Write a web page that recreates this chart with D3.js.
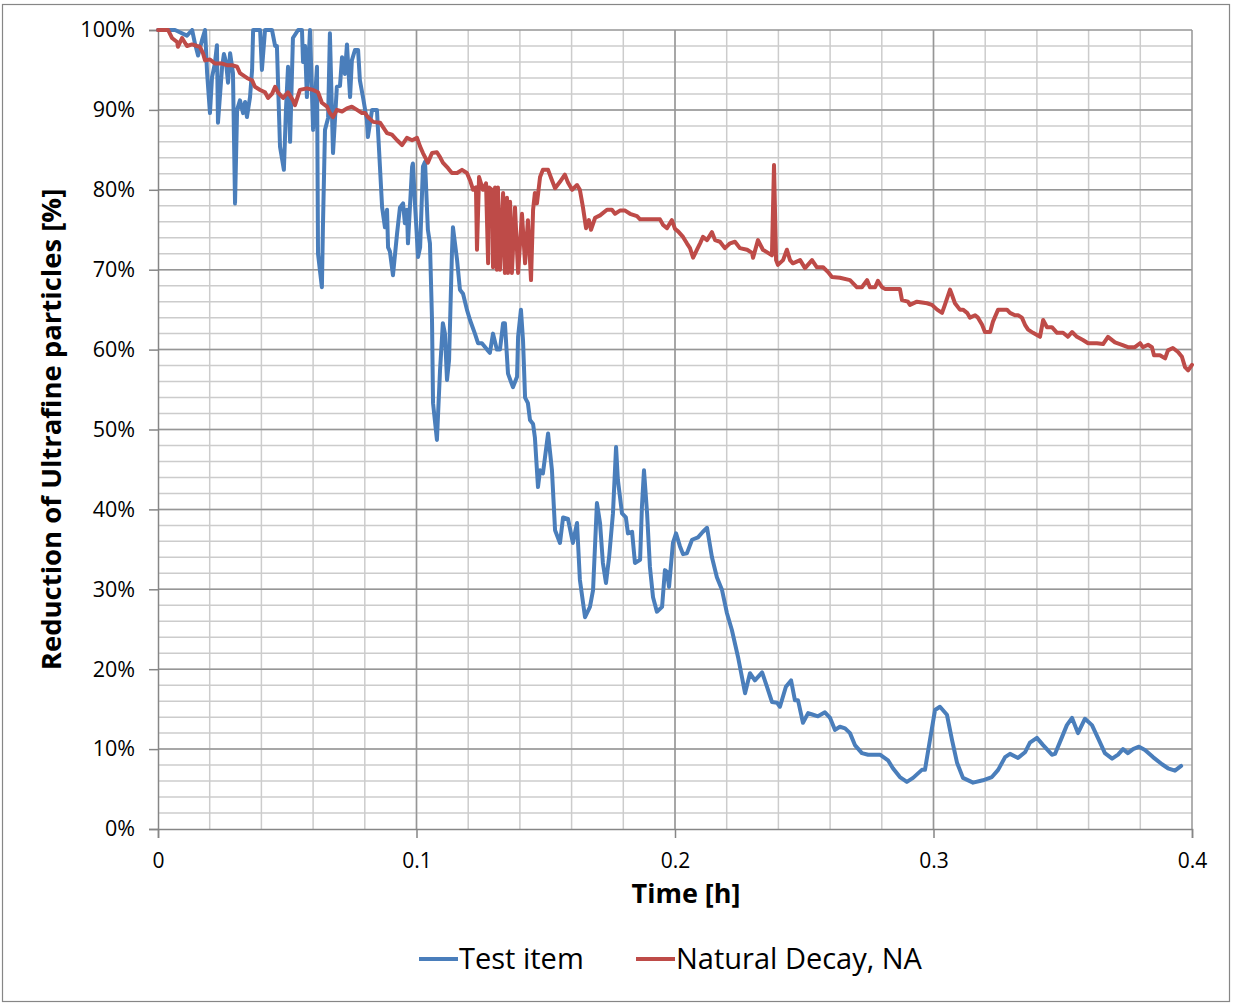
<!DOCTYPE html>
<html>
<head>
<meta charset="utf-8">
<title>Reduction of Ultrafine particles</title>
<script src="https://d3js.org/d3.v7.min.js"></script>
<style>
  body { margin: 0; background: #fff; }
  text { font-family: "Open Sans", sans-serif; fill: #000; }
  .grid-minor line { stroke: #cccccc; stroke-width: 1.5; }
  .grid-major line { stroke: #969696; stroke-width: 1.5; }
  .axis path, .axis line { stroke: #868686; stroke-width: 1.5; }
  .axis text { font-size: 21.5px; }
  .series { fill: none; stroke-width: 4; stroke-linejoin: round; stroke-linecap: round; }
</style>
</head>
<body>
<svg width="1235" height="1004"></svg>
<script>
// time [h] and reduction [%]
var testTime = [0, .0066, .0112, .0132, .0143, .0155, .0170, .0182, .0190, .0201, .0209, .0220, .0228, .0232,
  .0248, .0255, .0263, .0271, .0279, .0290, .0298, .0306, .0317, .0329, .0337, .0344, .0356, .0364, .0368,
  .0395, .0402, .0414, .0441, .0453, .0460, .0472, .0487, .0495, .0503, .0511, .0522, .0542, .0557, .0561,
  .0569, .0576, .0588, .0600, .0615, .0619, .0634, .0638, .0646, .0658, .0665, .0677, .0692, .0704, .0712,
  .0723, .0731, .0743, .0750, .0762, .0774, .0781, .0793, .0808, .0812, .0828, .0847, .0851, .0867, .0878,
  .0886, .0890, .0897, .0909, .0925, .0936, .0948, .0955, .0963, .0967, .0983, .0986, .0994, .1006, .1014,
  .1025, .1033, .1044, .1052, .1060, .1064, .1079, .1091, .1102, .1110, .1118, .1126, .1137, .1141, .1157,
  .1168, .1180, .1195, .1207, .1226, .1238, .1253, .1273, .1284, .1296, .1311, .1323, .1335, .1342, .1354,
  .1373, .1389, .1393, .1404, .1412, .1420, .1431, .1439, .1451, .1458, .1470, .1478, .1489, .1509, .1524,
  .1536, .1555, .1567, .1586, .1605, .1621, .1632, .1652, .1671, .1683, .1698, .1710, .1721, .1733, .1745,
  .1760, .1772, .1779, .1795, .1810, .1818, .1834, .1845, .1865, .1872, .1880, .1892, .1903, .1915, .1930,
  .1950, .1961, .1969, .1977, .1992, .2004, .2019, .2031, .2046, .2066, .2089, .2108, .2124, .2143, .2162,
  .2182, .2201, .2220, .2244, .2259, .2271, .2290, .2309, .2337, .2356, .2375, .2395, .2406, .2429, .2449,
  .2464, .2476, .2495, .2515, .2534, .2553, .2580, .2600, .2619, .2638, .2658, .2677, .2696, .2723, .2747,
  .2793, .2824, .2843, .2870, .2897, .2921, .2955, .2967, .2986, .3006, .3025, .3052, .3072, .3091, .3114,
  .3153, .3191, .3226, .3250, .3277, .3296, .3327, .3354, .3373, .3400, .3424, .3458, .3470, .3497, .3516,
  .3536, .3559, .3586, .3613, .3636, .3663, .3691, .3714, .3733, .3752, .3772, .3795, .3818, .3849, .3884,
  .3907, .3934, .3958];
var testValue = [100, 100, 99.3, 100, 98.3, 96.8, 98.7, 100, 94.6, 89.6, 94.1, 95.8, 98.1, 88.4,
  95.4, 97, 96, 93.4, 97.1, 94.6, 78.3, 90, 91.2, 89.6, 91, 89.1, 91.6, 95, 100,
  100, 95, 100, 100, 98, 98, 85.4, 82.5, 90, 95.4, 86, 99, 100, 100, 96,
  98, 91.6, 100, 87.5, 95.4, 72, 67.8, 75.3, 87.5, 89, 99.6, 84.6, 92.9, 93, 96.6,
  94.5, 98.2, 91.6, 96.2, 97.5, 97.5, 93.7, 91.6, 88.7, 86.6, 90, 90, 87.5, 77.8, 75.3,
  77.5, 72.8, 72.3, 69.3, 74.6, 77.8, 78.3, 75.8, 77.5, 73.3, 82.9, 83.3, 78.3, 71.6, 72.8,
  82.9, 83.5, 75, 73.3, 63.7, 53.3, 48.7, 57.4, 63.3, 62, 56.2, 58.7, 72, 75.3, 71.2,
  67.5, 67, 65, 63.7, 62, 60.8, 60.8, 60, 59.6, 62, 60, 60, 63.3, 63.3, 57,
  55.3, 56.6, 61.6, 65, 61.2, 54, 53.3, 51.2, 50.7, 49, 42.8, 44.9, 44.5, 49.5, 44.9,
  37.4, 35.8, 39, 38.8, 35.8, 38.3, 31.2, 26.5, 27.8, 29.9, 40.8, 38.3, 33.3, 30.8, 34,
  39.5, 47.8, 43.7, 39.5, 39, 37, 37.2, 33.3, 33.7, 40.3, 44.9, 39.5, 32.8, 29, 27.2,
  27.8, 32.4, 32.2, 30.3, 35.8, 37, 35.4, 34.4, 34.5, 36.2, 36.5, 37.2, 37.7, 34, 31.5,
  29.9, 27, 24.9, 21.5, 19, 17, 19.5, 18.6, 19.6, 17.8, 15.9, 15.8, 15.3, 17.8, 18.6,
  16.1, 16.1, 13.3, 14.5, 14.3, 14.1, 14.6, 13.9, 12.4, 12.8, 12.6, 12, 10.5, 9.5, 9.3,
  9.3, 8.6, 7.6, 6.5, 5.9, 6.4, 7.4, 7.4, 11.1, 14.9, 15.3, 14.3, 11.1, 8.3, 6.4,
  5.8, 6.1, 6.5, 7.4, 9, 9.4, 8.9, 9.6, 10.8, 11.4, 10.5, 9.3, 9.4, 11.5, 13,
  13.9, 12, 13.8, 13, 11.4, 9.5, 8.8, 9.3, 10, 9.5, 10, 10.3, 9.9, 9, 8.1,
  7.6, 7.3, 7.9];

var naTime = [0, .0039, .0054, .0074, .0077, .0093, .0112, .0132, .0151, .0162, .0174, .0182, .0201, .0220,
  .0248, .0267, .0286, .0306, .0317, .0344, .0364, .0375, .0395, .0414, .0426, .0441, .0453, .0464, .0484,
  .0503, .0522, .0530, .0549, .0576, .0600, .0619, .0634, .0654, .0665, .0677, .0692, .0712, .0731, .0750,
  .0770, .0789, .0801, .0812, .0832, .0859, .0886, .0905, .0925, .0944, .0963, .0983, .1002, .1014, .1025,
  .1044, .1060, .1079, .1091, .1102, .1122, .1137, .1157, .1176, .1195, .1207, .1219, .1230, .1234, .1242,
  .1257, .1269, .1277, .1280, .1292, .1296, .1304, .1311, .1315, .1323, .1335, .1342, .1350, .1354, .1362,
  .1369, .1381, .1393, .1408, .1420, .1431, .1443, .1451, .1458, .1466, .1478, .1489, .1509, .1524, .1536,
  .1555, .1574, .1586, .1602, .1621, .1632, .1644, .1656, .1667, .1675, .1691, .1710, .1737, .1756, .1768,
  .1787, .1807, .1826, .1853, .1865, .1903, .1942, .1954, .1969, .1988, .2000, .2012, .2031, .2046, .2058,
  .2070, .2085, .2097, .2108, .2124, .2143, .2155, .2174, .2193, .2213, .2232, .2251, .2279, .2298, .2302,
  .2321, .2340, .2360, .2375, .2383, .2391, .2398, .2418, .2433, .2445, .2456, .2484, .2503, .2530, .2549,
  .2573, .2592, .2607, .2638, .2677, .2704, .2723, .2743, .2754, .2774, .2785, .2801, .2812, .2870, .2878,
  .2901, .2909, .2936, .2975, .2994, .3014, .3033, .3044, .3064, .3072, .3083, .3102, .3114, .3130, .3141,
  .3161, .3172, .3188, .3199, .3219, .3230, .3250, .3284, .3296, .3315, .3327, .3342, .3354, .3366, .3385,
  .3412, .3424, .3439, .3458, .3478, .3501, .3520, .3536, .3555, .3578, .3598, .3632, .3656, .3675, .3702,
  .3729, .3752, .3779, .3799, .3810, .3830, .3845, .3853, .3876, .3896, .3907, .3926, .3946, .3961, .3973,
  .3985, .4000];
var naValue = [100, 100, 99, 98.5, 97.9, 99, 98, 98.2, 98, 97.9, 97.1, 96.2, 96.3, 95.8,
  95.8, 95.6, 95.6, 95.4, 94.6, 94, 93.7, 92.9, 92.5, 92.2, 91.5, 92, 92.9, 92.2, 91.5,
  92.2, 91.2, 90.6, 92.5, 92.7, 92.5, 92.2, 90.9, 90.4, 89.6, 89.1, 90, 89.8, 90.2, 90.4,
  90, 89.6, 89.6, 89.1, 88.5, 88.4, 87.1, 86.9, 86.2, 85.6, 86.5, 86.2, 86.5, 85.4, 84.6,
  83.4, 84.6, 84.7, 84.1, 83.4, 82.7, 82.1, 82.1, 82.5, 82.1, 81.2, 80, 80.3, 72.5, 81.6,
  80, 80.8, 70.8, 80.3, 80, 70.3, 80.3, 70, 80.3, 70, 79.6, 69.6, 79, 69.6, 78.5,
  69.6, 77.8, 69.6, 77, 70.8, 76.2, 68.7, 77.5, 79.6, 78.3, 81.6, 82.5, 82.5, 81.2, 80.2,
  81, 81.9, 80.9, 80, 80.6, 80, 77.8, 75.2, 76.2, 75, 76.5, 76.8, 77.5, 77.5, 77,
  77.4, 77.4, 77, 76.7, 76.3, 76.3, 76.3, 75.6, 75.2, 76.2, 75.1, 74.8, 74.1, 73.3, 72.7,
  71.5, 72.5, 73.3, 74.1, 73.7, 74.7, 73.7, 73.5, 72.7, 73.3, 73.5, 72.7, 72.5, 72.1, 71.5,
  73.7, 72.5, 72.1, 71.8, 83.1, 71.2, 70.6, 71.2, 72.5, 71.2, 70.8, 71.2, 70.2, 71.2, 70.3,
  70.3, 69.7, 69.1, 69, 68.7, 67.8, 67.8, 68.7, 67.8, 67.8, 68.6, 67.8, 67.6, 67.6, 66.2,
  66, 65.6, 66, 65.8, 65.6, 65, 64.6, 65.6, 67.5, 66.8, 65.8, 65, 65, 64.6, 64,
  64.3, 64, 63.1, 62.2, 62.2, 63.5, 65, 65, 64.6, 64.3, 64.3, 64, 63.1, 62.5, 62.1,
  61.6, 63.7, 62.8, 62.8, 62.1, 62.1, 61.6, 62.2, 61.6, 61.2, 60.8, 60.8, 60.7, 61.6, 60.9,
  60.6, 60.3, 60.3, 60.8, 60.3, 60.6, 60.3, 59.3, 59.3, 58.9, 59.9, 60.2, 59.7, 59.1, 57.8,
  57.4, 58.1];

var seriesNames = ["Test item", "Natural Decay, NA"];
var seriesColors = ["#4a7ebb", "#be4b48"];
var xTicks = [0, 0.1, 0.2, 0.3, 0.4];
var yTicks = [0, 10, 20, 30, 40, 50, 60, 70, 80, 90, 100];

var svg = d3.select("svg"),
  margin = { top: 30, right: 43, bottom: 175, left: 158 },
  width = +svg.attr("width") - margin.left - margin.right,
  height = +svg.attr("height") - margin.top - margin.bottom;

// outer chart frame
svg.append("rect")
  .attr("x", 2.5).attr("y", 4.5)
  .attr("width", 1227).attr("height", 997)
  .attr("fill", "#fff")
  .attr("stroke", "#868686")
  .attr("stroke-width", 1.2);

var g = svg.append("g").attr("transform", "translate(" + margin.left + "," + margin.top + ")");

var x = d3.scaleLinear().domain([0, 0.4]).range([0, width]);
var y = d3.scaleLinear().domain([0, 100]).range([height, 0]);

// minor grid every 0.02 h and 2 %
var minor = g.append("g").attr("class", "grid-minor");
minor.selectAll("line.v").data(d3.range(1, 20).map(function(i) { return i * 0.02; }))
  .enter().append("line").attr("class", "v")
  .attr("x1", function(d) { return x(d); }).attr("x2", function(d) { return x(d); })
  .attr("y1", 0).attr("y2", height);
minor.selectAll("line.h").data(d3.range(1, 50).map(function(i) { return i * 2; }))
  .enter().append("line").attr("class", "h")
  .attr("y1", function(d) { return y(d); }).attr("y2", function(d) { return y(d); })
  .attr("x1", 0).attr("x2", width);

// major grid
var major = g.append("g").attr("class", "grid-major");
major.selectAll("line.v").data(xTicks.slice(1))
  .enter().append("line").attr("class", "v")
  .attr("x1", function(d) { return x(d); }).attr("x2", function(d) { return x(d); })
  .attr("y1", 0).attr("y2", height);
major.selectAll("line.h").data(yTicks.slice(1))
  .enter().append("line").attr("class", "h")
  .attr("y1", function(d) { return y(d); }).attr("y2", function(d) { return y(d); })
  .attr("x1", 0).attr("x2", width);

// axes
g.append("g").attr("class", "axis")
  .call(d3.axisLeft(y).tickValues(yTicks).tickSize(9).tickPadding(14)
    .tickFormat(function(d) { return d + "%"; }));

g.append("g").attr("class", "axis x-axis")
  .attr("transform", "translate(0," + height + ")")
  .call(d3.axisBottom(x).tickValues(xTicks).tickSize(9).tickPadding(15)
    .tickFormat(function(d) { return d === 0 ? "0" : d3.format(".1f")(d); }))
  .selectAll("text").style("font-size", "21px");

// lines
var line = d3.line()
  .x(function(d) { return x(d[0]); })
  .y(function(d) { return y(d[1]); });

var series = [d3.zip(testTime, testValue), d3.zip(naTime, naValue)];

g.append("clipPath").attr("id", "plot")
  .append("rect").attr("x", -2).attr("y", -2).attr("width", width + 4).attr("height", height + 4);

g.selectAll(".series")
  .data(series)
  .enter().append("path")
  .attr("class", "series")
  .attr("clip-path", "url(#plot)")
  .attr("stroke", function(d, i) { return seriesColors[i]; })
  .attr("d", line);

// axis titles
svg.append("text")
  .attr("transform", "translate(61," + (margin.top + height / 2) + ") rotate(-90)")
  .attr("text-anchor", "middle")
  .style("font-size", "27.5px")
  .style("font-weight", "bold")
  .text("Reduction of Ultrafine particles [%]");

svg.append("text")
  .attr("x", 686)
  .attr("y", 903)
  .attr("text-anchor", "middle")
  .style("font-size", "27px")
  .style("font-weight", "bold")
  .text("Time [h]");

// legend
var legendX = [419, 636];
var legend = svg.selectAll(".legend")
  .data(seriesNames)
  .enter().append("g")
  .attr("transform", function(d, i) { return "translate(" + legendX[i] + ",959)"; });
legend.append("line")
  .attr("x1", 0).attr("x2", 39)
  .attr("stroke", function(d, i) { return seriesColors[i]; })
  .attr("stroke-width", 4);
legend.append("text")
  .attr("x", 40).attr("y", 10)
  .style("font-size", "29px")
  .text(function(d) { return d; });
</script>
</body>
</html>
